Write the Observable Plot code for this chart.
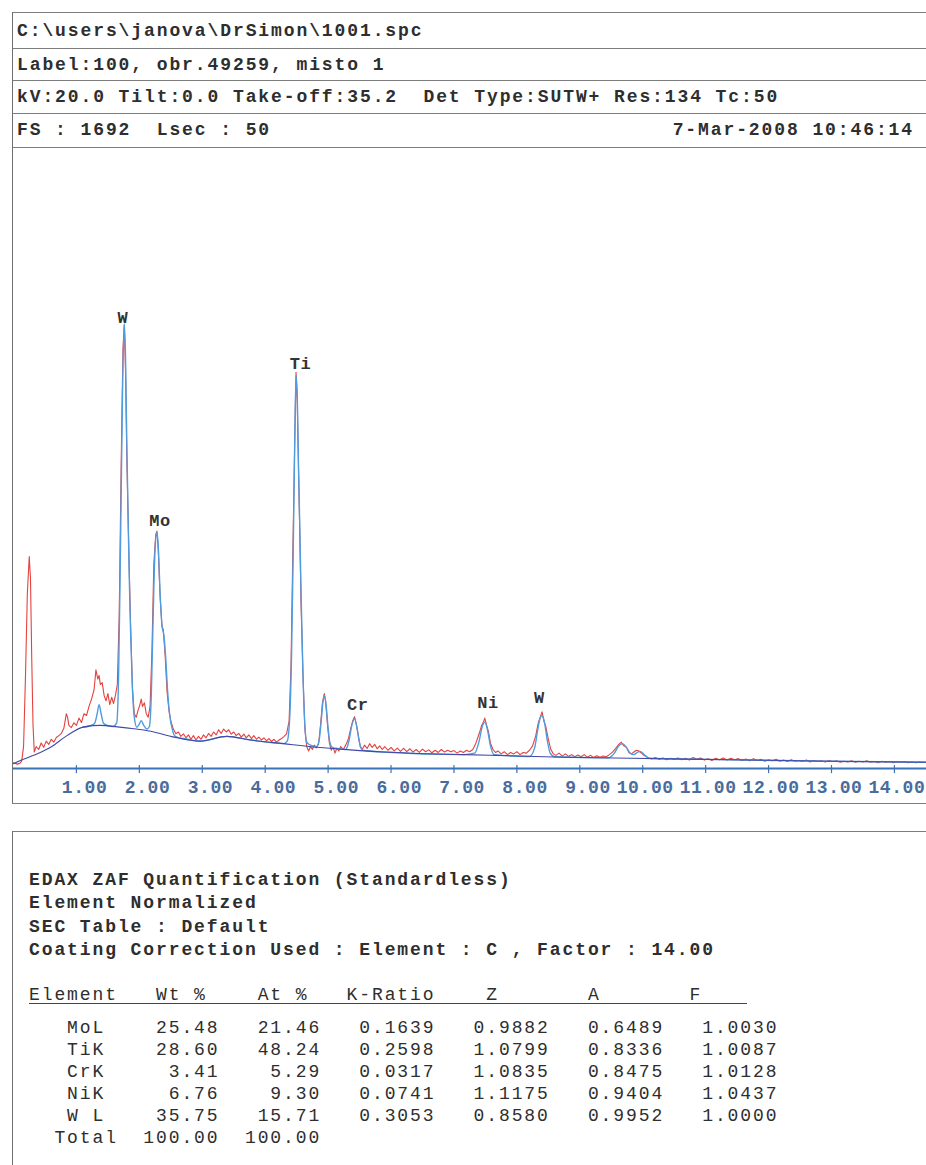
<!DOCTYPE html>
<html><head><meta charset="utf-8">
<script src="https://cdn.jsdelivr.net/npm/d3@7"></script>
<script src="https://cdn.jsdelivr.net/npm/@observablehq/plot@0.6"></script>
<style>
html,body{margin:0;padding:0;background:#fff;width:926px;height:1165px;overflow:hidden;}
#page{position:relative;width:926px;height:1165px;font-family:"Liberation Mono","Courier New",monospace;color:#2e2e2e;}
.hline{position:absolute;left:12px;right:0;height:0;border-top:1.3px solid #7d7d7d;}
.vline{position:absolute;left:12px;width:0;border-left:1.5px solid #707070;}
.txt{position:absolute;white-space:pre;line-height:1;transform:translateY(-44%);font-size:18px;letter-spacing:1.9px;}
.b{font-weight:bold;}
#chart{position:absolute;left:0;top:147px;}
#chart svg{overflow:visible;}
</style></head>
<body><div id="page"><div id="chart"></div></div>
<script>
// ---------- header / text data ----------
const headerLines = [
  "C:\\users\\janova\\DrSimon\\1001.spc",
  "Label:100, obr.49259, misto 1",
  "kV:20.0 Tilt:0.0 Take-off:35.2  Det Type:SUTW+ Res:134 Tc:50",
  "FS : 1692  Lsec : 50"
];
const dateText = "7-Mar-2008 10:46:14";
const quantLines = [
  "EDAX ZAF Quantification (Standardless)",
  "Element Normalized",
  "SEC Table : Default",
  "Coating Correction Used : Element : C , Factor : 14.00"
];
const elements = ["MoL", "TiK", "CrK", "NiK", "W L"];
const wtPct  = [25.48, 28.60, 3.41, 6.76, 35.75];
const atPct  = [21.46, 48.24, 5.29, 9.30, 15.71];
const kRatio = [0.1639, 0.2598, 0.0317, 0.0741, 0.3053];
const zCorr  = [0.9882, 1.0799, 1.0835, 1.1175, 0.8580];
const aCorr  = [0.6489, 0.8336, 0.8475, 0.9404, 0.9952];
const fCorr  = [1.0030, 1.0087, 1.0128, 1.0437, 1.0000];
const totals = [100.00, 100.00];

// ---------- spectrum data (energy keV, counts) ----------
const fullScale = 1692;
const keVTicks = [1,2,3,4,5,6,7,8,9,10,11,12,13,14];
const peakLabels = [
  {element:"W",  energy:1.74, count:1236},
  {element:"Mo", energy:2.33, count:678},
  {element:"Ti", energy:4.56, count:1110},
  {element:"Cr", energy:5.47, count:175},
  {element:"Ni", energy:7.54, count:180},
  {element:"W",  energy:8.36, count:195}
];
const backgroundCurve = [[0.00,13],[0.11,22],[0.32,36],[0.59,58],[0.85,90],[1.12,114],[1.38,118],[1.65,114],[1.91,109],[2.18,102],[2.55,86],[2.97,75],[3.39,88],[3.77,78],[4.29,68],[4.83,58],[5.35,51],[5.88,45],[7.15,38],[7.66,36],[8.74,31],[9.81,28],[11.40,24],[12.98,20],[14.51,17]];
const fittedSpectrum = [[1.10,113],[1.22,117],[1.29,124],[1.33,150],[1.36,175],[1.39,152],[1.43,124],[1.50,117],[1.58,115],[1.64,125],[1.67,250],[1.70,600],[1.73,1000],[1.76,1218],[1.78,1130],[1.80,900],[1.82,700],[1.84,520],[1.86,380],[1.89,220],[1.92,140],[1.96,113],[2.00,122],[2.03,131],[2.07,118],[2.12,108],[2.16,115],[2.19,200],[2.22,420],[2.25,600],[2.28,646],[2.30,610],[2.33,480],[2.36,390],[2.39,365],[2.42,300],[2.45,210],[2.48,150],[2.52,110],[2.57,88],[2.70,82],[2.97,75],[3.39,88],[3.77,78],[4.29,68],[4.35,75],[4.39,140],[4.42,320],[4.45,650],[4.47,900],[4.49,1076],[4.51,1020],[4.53,820],[4.55,660],[4.57,480],[4.60,260],[4.63,120],[4.66,72],[4.72,64],[4.82,60],[4.86,80],[4.89,130],[4.92,185],[4.94,200],[4.97,170],[5.00,110],[5.03,70],[5.08,56],[5.28,52],[5.33,75],[5.38,120],[5.42,136],[5.46,110],[5.50,70],[5.55,50],[5.88,45],[7.15,38],[7.33,42],[7.40,75],[7.45,115],[7.49,127],[7.53,108],[7.58,62],[7.64,38],[8.20,33],[8.28,55],[8.33,105],[8.37,138],[8.40,145],[8.44,125],[8.48,80],[8.53,42],[8.60,32],[9.45,29],[9.55,42],[9.62,62],[9.68,68],[9.74,58],[9.80,42],[9.86,38],[9.92,45],[9.96,47],[10.01,40],[10.10,28],[11.40,24],[12.98,20],[14.51,17]];
const measuredSpectrum = [[0.00,16],[0.03,14],[0.06,12],[0.10,14],[0.13,20],[0.16,60],[0.19,250],[0.22,480],[0.25,580],[0.27,520],[0.29,300],[0.31,120],[0.33,45],[0.36,60],[0.40,52],[0.44,70],[0.48,58],[0.52,75],[0.56,66],[0.60,80],[0.64,72],[0.68,85],[0.72,90],[0.76,96],[0.80,110],[0.84,150],[0.86,140],[0.88,118],[0.92,112],[0.96,125],[1.00,118],[1.04,138],[1.08,126],[1.12,150],[1.16,145],[1.20,170],[1.24,190],[1.28,215],[1.31,270],[1.34,245],[1.36,255],[1.38,230],[1.41,235],[1.44,200],[1.47,185],[1.50,205],[1.53,175],[1.56,195],[1.59,178],[1.62,200],[1.65,230],[1.68,420],[1.71,820],[1.74,1150],[1.76,1215],[1.78,1090],[1.80,860],[1.83,620],[1.86,400],[1.89,220],[1.92,150],[1.95,140],[1.98,160],[2.01,175],[2.03,190],[2.05,170],[2.08,180],[2.11,150],[2.14,140],[2.17,170],[2.20,320],[2.23,560],[2.26,640],[2.28,650],[2.30,600],[2.33,470],[2.36,390],[2.38,380],[2.41,310],[2.44,210],[2.47,160],[2.50,130],[2.54,108],[2.58,95],[2.62,100],[2.66,88],[2.70,95],[2.74,84],[2.78,92],[2.82,80],[2.86,90],[2.90,78],[2.94,88],[2.98,80],[3.02,92],[3.06,84],[3.10,96],[3.14,88],[3.18,100],[3.22,92],[3.26,106],[3.30,96],[3.34,108],[3.38,100],[3.42,106],[3.46,94],[3.50,100],[3.54,90],[3.58,96],[3.62,86],[3.66,94],[3.70,84],[3.74,92],[3.78,82],[3.82,90],[3.86,80],[3.90,86],[3.94,78],[3.98,84],[4.02,76],[4.06,82],[4.10,74],[4.14,80],[4.18,72],[4.22,78],[4.26,82],[4.30,88],[4.34,95],[4.38,130],[4.41,280],[4.44,600],[4.47,900],[4.49,1085],[4.51,1000],[4.53,820],[4.55,640],[4.57,450],[4.60,260],[4.63,110],[4.66,60],[4.69,48],[4.72,60],[4.75,52],[4.78,64],[4.81,56],[4.85,70],[4.88,120],[4.91,180],[4.94,205],[4.96,185],[4.99,120],[5.02,70],[5.05,50],[5.08,58],[5.11,42],[5.14,56],[5.17,48],[5.20,60],[5.24,52],[5.28,64],[5.32,80],[5.36,110],[5.39,130],[5.42,142],[5.45,120],[5.48,90],[5.51,60],[5.54,52],[5.58,64],[5.62,55],[5.66,68],[5.70,58],[5.74,66],[5.78,54],[5.82,62],[5.86,52],[5.90,60],[5.95,50],[6.00,58],[6.05,48],[6.10,56],[6.15,47],[6.20,55],[6.25,46],[6.30,54],[6.35,45],[6.40,52],[6.45,44],[6.50,53],[6.55,46],[6.60,51],[6.65,43],[6.70,50],[6.75,44],[6.80,52],[6.85,45],[6.90,50],[6.95,46],[7.00,49],[7.05,42],[7.10,48],[7.15,44],[7.20,50],[7.25,46],[7.30,52],[7.35,70],[7.40,95],[7.44,118],[7.47,128],[7.49,138],[7.52,118],[7.55,100],[7.58,70],[7.62,52],[7.66,44],[7.70,48],[7.75,40],[7.80,46],[7.85,38],[7.90,44],[7.95,40],[8.00,46],[8.05,38],[8.10,44],[8.15,42],[8.20,50],[8.25,62],[8.30,90],[8.34,125],[8.37,140],[8.40,155],[8.43,130],[8.46,115],[8.50,80],[8.54,52],[8.58,40],[8.62,36],[8.67,42],[8.72,34],[8.77,40],[8.82,33],[8.87,38],[8.92,32],[8.97,37],[9.02,32],[9.07,38],[9.12,31],[9.17,36],[9.22,30],[9.27,35],[9.32,31],[9.37,34],[9.42,32],[9.47,38],[9.52,45],[9.57,55],[9.62,66],[9.66,72],[9.70,62],[9.74,58],[9.78,44],[9.82,40],[9.86,45],[9.90,50],[9.94,48],[9.98,42],[10.02,36],[10.08,30],[10.14,26],[10.20,30],[10.26,25],[10.32,29],[10.38,24],[10.44,28],[10.50,25],[10.56,29],[10.62,24],[10.68,28],[10.74,23],[10.80,30],[10.86,25],[10.92,29],[10.98,23],[11.04,27],[11.10,22],[11.16,28],[11.22,24],[11.28,29],[11.34,23],[11.40,28],[11.46,24],[11.52,27],[11.58,22],[11.64,26],[11.70,21],[11.76,27],[11.82,22],[11.88,25],[11.94,20],[12.00,24],[12.06,21],[12.12,25],[12.18,20],[12.24,23],[12.30,19],[12.36,24],[12.42,20],[12.48,22],[12.54,19],[12.60,23],[12.66,18],[12.72,22],[12.78,19],[12.84,21],[12.90,18],[12.96,22],[13.02,19],[13.08,21],[13.14,17],[13.20,20],[13.26,18],[13.32,21],[13.38,17],[13.44,20],[13.50,18],[13.56,21],[13.62,17],[13.68,19],[13.74,16],[13.80,20],[13.86,17],[13.92,19],[13.98,16],[14.04,19],[14.10,17],[14.16,19],[14.22,16],[14.28,18],[14.34,16],[14.40,18],[14.46,17],[14.51,17]];

// ---------- page frame & texts ----------
const page = document.getElementById("page");
function add(cls, style, text) {
  const d = document.createElement("div");
  d.className = cls; d.setAttribute("style", style);
  if (text != null) d.textContent = text;
  page.appendChild(d);
  return d;
}
const rowLines = [12, 48, 80, 113, 147];
rowLines.forEach(y => add("hline", `top:${y}px`));
add("vline", "top:12px;height:791px");
add("hline", "top:803px");
const rowCenters = [30, 64, 96, 129];
headerLines.forEach((t, i) => add("txt b", `left:17px;top:${rowCenters[i]}px;`, t));
add("txt b", `right:12px;top:${rowCenters[3]}px;`, dateText);

// second box
add("hline", "top:831px");
add("vline", "top:831px;height:334px");
const quantY = [879, 902, 926, 949];
quantLines.forEach((t, i) => add("txt b", `left:29px;top:${quantY[i]}px;`, t));
add("txt", "left:29px;top:994px;", "Element   Wt %    At %   K-Ratio    Z       A       F");
add("hline", "left:29px;right:auto;width:718px;top:1003px;border-top:1.3px solid #444;");
const rowY = [1027, 1049, 1071, 1093, 1115, 1137];
elements.forEach((el, i) => {
  const s = "   " + el.padEnd(3) +
    wtPct[i].toFixed(2).padStart(9) +
    atPct[i].toFixed(2).padStart(8) +
    kRatio[i].toFixed(4).padStart(9) +
    zCorr[i].toFixed(4).padStart(9) +
    aCorr[i].toFixed(4).padStart(9) +
    fCorr[i].toFixed(4).padStart(9);
  add("txt", `left:29px;top:${rowY[i]}px;`, s);
});
add("txt", `left:29px;top:${rowY[5]}px;`, "  Total" + totals[0].toFixed(2).padStart(8) + totals[1].toFixed(2).padStart(8));

// ---------- spectrum plot ----------
const mono = "Liberation Mono, Courier New, monospace";
const chart = Plot.plot({
  width: 926, height: 656,
  marginTop: 3, marginBottom: 35, marginLeft: 13, marginRight: 0,
  x: {domain: [0, 14.51], axis: null},
  y: {domain: [0, fullScale], axis: null},
  style: {background: "transparent", overflow: "visible"},
  marks: [
    Plot.line(measuredSpectrum, {x: d => d[0], y: d => d[1], stroke: "#e4423f", strokeWidth: 1.1}),
    Plot.line(fittedSpectrum, {x: d => d[0], y: d => d[1], stroke: "#4f9be0", strokeWidth: 1.4, curve: "monotone-x"}),
    Plot.line(backgroundCurve, {x: d => d[0], y: d => d[1], stroke: "#4048a8", strokeWidth: 1.1, curve: "monotone-x"}),
    Plot.ruleY([0], {stroke: "#3a73b8", strokeWidth: 2.2}),
    Plot.ruleX(keVTicks, {x: d => d, y1: 8, y2: -14, stroke: "#3a73b8", strokeWidth: 1.2}),
    Plot.text(keVTicks, {x: d => d, y: 0, text: d => d.toFixed(2), textAnchor: "end", dx: 31, dy: 19,
      fill: "#4a6c9c", fontWeight: "bold", fontSize: 18, fontFamily: mono, className: "tick-lbl"}),
    Plot.text(peakLabels, {x: "energy", y: "count", text: "element", fill: "#333",
      fontWeight: "bold", fontSize: 17, fontFamily: mono})
  ]
});
document.getElementById("chart").appendChild(chart);
d3.select(chart).selectAll("text").style("letter-spacing", "0.6px");
</script>
</body></html>
